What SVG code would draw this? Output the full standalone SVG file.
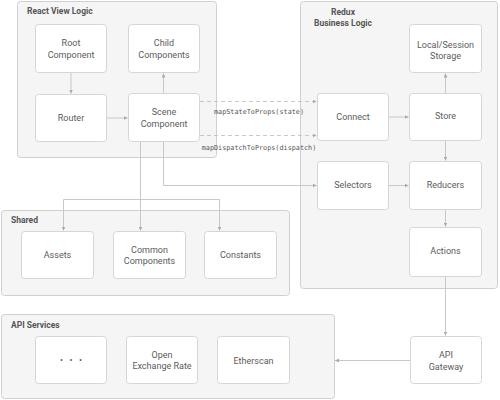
<svg xmlns="http://www.w3.org/2000/svg" width="500" height="400" viewBox="0 0 500 400">
<defs>
<style>
.grp{fill:#f5f5f5;stroke:#d0d0d0;stroke-width:1}
.node{fill:#fff;stroke:#d6d6d6;stroke-width:1}
.t{font-family:Roboto,"Liberation Sans",sans-serif;font-size:9px;fill:#5c5c5c;text-anchor:middle}
.gl{font-family:Roboto,"Liberation Sans",sans-serif;font-size:8.5px;font-weight:bold;fill:#555}
.ln{fill:none;stroke:#c8c8c8;stroke-width:1}
.dash{stroke-dasharray:4 3}
.mono{font-family:"DejaVu Sans Mono","Liberation Mono",monospace;font-size:6.8px;fill:#555;text-anchor:middle}
</style>
<marker id="ah" viewBox="0 0 6 6" refX="6" refY="3" markerWidth="4" markerHeight="4" orient="auto" markerUnits="userSpaceOnUse">
<path d="M0,0 L6,3 L0,6 z" fill="#aaa"/>
</marker>
</defs>
<rect width="500" height="400" fill="#fff"/>

<g id="group-react"><rect class="grp" x="17.5" y="1.5" width="199" height="156" rx="3"/><text class="gl" x="27" y="14">React View Logic</text></g>
<g id="group-redux"><rect class="grp" x="300.5" y="1.5" width="197" height="287" rx="3"/><text class="gl" x="343" y="15" text-anchor="middle">Redux</text><text class="gl" x="343" y="26" text-anchor="middle">Business Logic</text></g>
<g id="group-shared"><rect class="grp" x="1.5" y="210.5" width="288" height="85" rx="3"/><text class="gl" x="11" y="223">Shared</text></g>
<g id="group-api"><rect class="grp" x="1.5" y="314.5" width="333" height="84" rx="3"/><text class="gl" x="11" y="328">API Services</text></g>

<g id="connectors">
<line class="ln" x1="71" y1="73" x2="71" y2="93.5" marker-end="url(#ah)"/>
<line class="ln" x1="107" y1="118" x2="127.5" y2="118" marker-end="url(#ah)"/>
<line class="ln" x1="163.5" y1="93" x2="163.5" y2="73.5" marker-end="url(#ah)"/>
<line class="ln dash" x1="200" y1="101.5" x2="316.5" y2="101.5" marker-end="url(#ah)"/>
<line class="ln dash" x1="200" y1="135.5" x2="316.5" y2="135.5" marker-end="url(#ah)"/>
<line class="ln" x1="389" y1="117" x2="408.5" y2="117" marker-end="url(#ah)"/>
<line class="ln" x1="445.5" y1="93" x2="445.5" y2="73.5" marker-end="url(#ah)"/>
<line class="ln" x1="445.5" y1="141" x2="445.5" y2="160.5" marker-end="url(#ah)"/>
<polyline class="ln" points="163.5,142 163.5,185.5 316.5,185.5" marker-end="url(#ah)"/>
<line class="ln" x1="140.5" y1="142" x2="140.5" y2="230.5" marker-end="url(#ah)"/>
<polyline class="ln" points="140.5,199.5 63.5,199.5 63.5,230.5" marker-end="url(#ah)"/>
<polyline class="ln" points="140.5,199.5 219.5,199.5 219.5,230.5" marker-end="url(#ah)"/>
<line class="ln" x1="389" y1="185.5" x2="408.5" y2="185.5" marker-end="url(#ah)"/>
<line class="ln" x1="445.5" y1="210" x2="445.5" y2="226.5" marker-end="url(#ah)"/>
<line class="ln" x1="445.5" y1="277" x2="445.5" y2="335.5" marker-end="url(#ah)"/>
<line class="ln" x1="410" y1="360.5" x2="335" y2="360.5" marker-end="url(#ah)"/>
<text class="mono" x="259" y="114">mapStateToProps(state)</text>
<text class="mono" x="259" y="150">mapDispatchToProps(dispatch)</text>
</g>

<g id="root"><rect class="node" x="35.5" y="24.5" width="71" height="48" rx="3"/><text class="t" x="71" y="46">Root</text><text class="t" x="71" y="58">Component</text></g>
<g id="child"><rect class="node" x="128.5" y="24.5" width="71" height="48" rx="3"/><text class="t" x="164" y="46">Child</text><text class="t" x="164" y="58">Components</text></g>
<g id="router"><rect class="node" x="35.5" y="94.5" width="71" height="47" rx="3"/><text class="t" x="71" y="121">Router</text></g>
<g id="scene"><rect class="node" x="128.5" y="93.5" width="71" height="48" rx="3"/><text class="t" x="164" y="115">Scene</text><text class="t" x="164" y="127">Component</text></g>

<g id="storage"><rect class="node" x="409.5" y="24.5" width="72" height="48" rx="3"/><text class="t" x="445.5" y="48">Local/Session</text><text class="t" x="445.5" y="59">Storage</text></g>
<g id="connect"><rect class="node" x="317.5" y="93.5" width="71" height="47" rx="3"/><text class="t" x="353" y="120">Connect</text></g>
<g id="store"><rect class="node" x="409.5" y="93.5" width="72" height="47" rx="3"/><text class="t" x="445.5" y="119">Store</text></g>
<g id="selectors"><rect class="node" x="317.5" y="161.5" width="71" height="48" rx="3"/><text class="t" x="353" y="188">Selectors</text></g>
<g id="reducers"><rect class="node" x="409.5" y="161.5" width="72" height="48" rx="3"/><text class="t" x="445.5" y="188">Reducers</text></g>
<g id="actions"><rect class="node" x="409.5" y="227.5" width="72" height="49" rx="3"/><text class="t" x="445.5" y="254">Actions</text></g>

<g id="assets"><rect class="node" x="21.5" y="231.5" width="72" height="47" rx="3"/><text class="t" x="57.5" y="258">Assets</text></g>
<g id="common"><rect class="node" x="113.5" y="231.5" width="72" height="47" rx="3"/><text class="t" x="149.5" y="253">Common</text><text class="t" x="149.5" y="264">Components</text></g>
<g id="constants"><rect class="node" x="204.5" y="231.5" width="72" height="47" rx="3"/><text class="t" x="240.5" y="258">Constants</text></g>

<g id="dots"><rect class="node" x="35.5" y="336.5" width="71" height="47" rx="3"/><text class="t" x="61.5 71 80.5" y="363" font-size="7px">•••</text></g>
<g id="openexchange"><rect class="node" x="126.5" y="336.5" width="71" height="47" rx="3"/><text class="t" x="162" y="358">Open</text><text class="t" x="162" y="369">Exchange Rate</text></g>
<g id="etherscan"><rect class="node" x="217.5" y="336.5" width="72" height="47" rx="3"/><text class="t" x="253.5" y="364">Etherscan</text></g>
<g id="gateway"><rect class="node" x="410.5" y="336.5" width="71" height="47" rx="3"/><text class="t" x="446" y="358">API</text><text class="t" x="446" y="370">Gateway</text></g>
</svg>
